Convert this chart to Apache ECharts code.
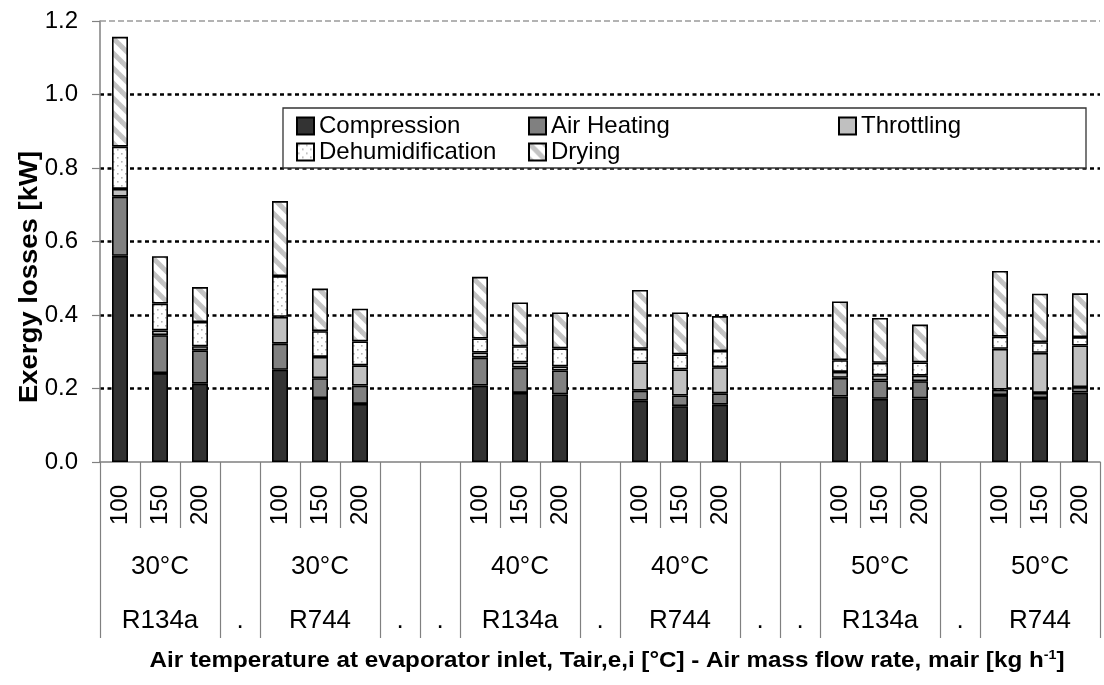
<!DOCTYPE html>
<html>
<head>
<meta charset="utf-8">
<script src="https://cdn.jsdelivr.net/npm/echarts@6/dist/echarts.min.js"></script>
<style>
  html, body { margin: 0; padding: 0; background: #fff; }
  #chart { width: 1104px; height: 685px; }
</style>
</head>
<body>
<div id="chart"></div>
<script>
// x-axis slots: three flow rates per group, '' marks an empty spacer slot
const flowRates = ['100', '150', '200', '', '100', '150', '200', '', '',
                   '100', '150', '200', '', '100', '150', '200', '', '',
                   '100', '150', '200', '', '100', '150', '200'];
const temperatures = ['', '30°C', '', '', '', '30°C', '', '', '',
                      '', '40°C', '', '', '', '40°C', '', '', '',
                      '', '50°C', '', '', '', '50°C', ''];
const refrigerants = ['', 'R134a', '', '.', '', 'R744', '', '.', '.',
                      '', 'R134a', '', '.', '', 'R744', '', '.', '.',
                      '', 'R134a', '', '.', '', 'R744', ''];

// Exergy losses [kW] for the 18 operating points (non-empty slots, left to right)
const compression      = [0.561, 0.242, 0.213, 0.251, 0.174, 0.158, 0.208, 0.188, 0.184, 0.167, 0.152, 0.156, 0.178, 0.172, 0.173, 0.182, 0.174, 0.189];
const airHeating       = [0.161, 0.103, 0.091, 0.071, 0.054, 0.050, 0.076, 0.069, 0.065, 0.027, 0.029, 0.031, 0.051, 0.050, 0.047, 0.015, 0.014, 0.015];
const throttling       = [0.021, 0.013, 0.011, 0.073, 0.058, 0.055, 0.014, 0.014, 0.011, 0.077, 0.071, 0.071, 0.016, 0.014, 0.015, 0.111, 0.109, 0.113];
const dehumidification = [0.115, 0.073, 0.066, 0.111, 0.070, 0.065, 0.038, 0.044, 0.049, 0.037, 0.041, 0.044, 0.032, 0.034, 0.036, 0.033, 0.029, 0.023];
const drying           = [0.299, 0.129, 0.095, 0.204, 0.116, 0.089, 0.168, 0.119, 0.098, 0.160, 0.114, 0.095, 0.160, 0.122, 0.103, 0.179, 0.132, 0.119];

const yTicks = { min: 0, max: 1.2, step: 0.2 };

const FONT = '"Liberation Sans", Arial, sans-serif';

// spread the 18 values over the 25 slots, leaving spacer slots empty
function spread(values) {
  let k = 0;
  return flowRates.map(f => (f === '' ? '-' : values[k++]));
}

// a slot opens a new cell in the lower label rows when it starts a group or is a spacer
function startsCell(i) {
  return flowRates[i] === '' || flowRates[i] === '100';
}

function stripes() {
  const s = 15;
  const c = document.createElement('canvas');
  c.width = s; c.height = s;
  const g = c.getContext('2d');
  g.fillStyle = '#ffffff';
  g.fillRect(0, 0, s, s);
  g.strokeStyle = '#c4c4c4';
  g.lineWidth = 5;
  [-s, 0, s].forEach(k => {
    g.beginPath();
    g.moveTo(k - 2, -2);
    g.lineTo(k + s + 2, s + 2);
    g.stroke();
  });
  return { image: c, repeat: 'repeat' };
}

function dots() {
  const s = 8;
  const c = document.createElement('canvas');
  c.width = s; c.height = s;
  const g = c.getContext('2d');
  g.fillStyle = '#ffffff';
  g.fillRect(0, 0, s, s);
  g.fillStyle = '#b4b4b4';
  g.fillRect(1, 1, 1.6, 1.6);
  g.fillRect(5, 5, 1.6, 1.6);
  return { image: c, repeat: 'repeat' };
}

function bar(name, values, color, extra) {
  return Object.assign({
    name: name,
    type: 'bar',
    stack: 'losses',
    barWidth: 16,
    data: spread(values),
    itemStyle: { color: color, borderColor: '#000', borderWidth: 1.6 },
    emphasis: { disabled: true }
  }, extra || {});
}

const legendBase = {
  padding: 0,
  icon: 'rect',
  itemWidth: 17,
  itemHeight: 17,
  selectedMode: false,
  z: 20,
  textStyle: { fontFamily: FONT, fontSize: 24, color: '#000', padding: [0, 0, 0, 0] }
};
function legendAt(name, left, top) {
  return Object.assign({}, legendBase, { data: [name], left: left, top: top });
}

const chart = echarts.init(document.getElementById('chart'), null, { renderer: 'canvas' });

chart.setOption({
  animation: false,
  backgroundColor: '#fff',
  grid: { left: 100, right: 4, top: 21, bottom: 223, containLabel: false },
  legend: [
    legendAt('Compression', 296, 114),
    legendAt('Air Heating', 528, 114),
    legendAt('Throttling', 838, 114),
    legendAt('Dehumidification', 296, 140),
    legendAt('Drying', 528, 140)
  ],
  xAxis: [
    {
      type: 'category',
      data: flowRates,
      position: 'bottom',
      axisLine: { show: true, lineStyle: { color: '#808080', width: 1.5 } },
      axisTick: { show: true, interval: 0, length: 66, lineStyle: { color: '#808080', width: 1.2 } },
      axisLabel: { interval: 0, rotate: 90, margin: 23, fontFamily: FONT, fontSize: 24, color: '#000' },
      splitLine: { show: false }
    },
    {
      type: 'category',
      data: temperatures,
      position: 'bottom',
      offset: 66,
      axisLine: { show: false },
      axisTick: { show: true, length: 110, interval: (i) => startsCell(i), lineStyle: { color: '#808080', width: 1.2 } },
      axisLabel: { interval: 0, margin: 26, fontFamily: FONT, fontSize: 26, color: '#000' },
      splitLine: { show: false }
    },
    {
      type: 'category',
      data: refrigerants,
      position: 'bottom',
      offset: 120,
      axisLine: { show: false },
      axisTick: { show: false },
      axisLabel: { interval: 0, margin: 26, fontFamily: FONT, fontSize: 26, color: '#000' },
      splitLine: { show: false }
    }
  ],
  yAxis: {
    type: 'value',
    min: yTicks.min,
    max: yTicks.max,
    interval: yTicks.step,
    axisLine: { show: true, lineStyle: { color: '#808080', width: 1.5 } },
    axisTick: { show: true, length: 8, lineStyle: { color: '#808080', width: 1.2 } },
    axisLabel: { margin: 22, fontFamily: FONT, fontSize: 24, color: '#000', formatter: v => v.toFixed(1) },
    splitLine: {
      show: true,
      showMinLine: false,
      showMaxLine: false,
      lineStyle: { color: '#000', width: 2.6, type: [4, 3.5] }
    }
  },
  series: [
    bar('Compression', compression, '#333333', {
      markLine: {
        silent: true,
        symbol: ['none', 'none'],
        label: { show: false },
        lineStyle: { color: '#9a9a9a', width: 1.5, type: [6, 3] },
        data: [{ yAxis: yTicks.max }]
      }
    }),
    bar('Air Heating', airHeating, '#808080'),
    bar('Throttling', throttling, '#c0c0c0'),
    bar('Dehumidification', dehumidification, dots()),
    bar('Drying', drying, stripes())
  ],
  graphic: [
    {
      type: 'rect',
      z: 10,
      shape: { x: 283, y: 108, width: 803, height: 60 },
      style: { fill: '#fff', stroke: '#333', lineWidth: 1.3 }
    },
    {
      type: 'text',
      x: 30,
      y: 277,
      rotation: Math.PI / 2,
      scaleX: 1.1,
      style: {
        text: 'Exergy losses [kW]',
        align: 'center',
        verticalAlign: 'middle',
        fontFamily: FONT,
        fontSize: 25,
        fontWeight: 'bold',
        fill: '#000'
      }
    },
    {
      type: 'text',
      x: 607,
      y: 661,
      scaleX: 1.1,
      style: {
        text: '{t|Air temperature at evaporator inlet, Tair,e,i [°C] - Air mass flow rate, mair [kg h}{s|-1}{t|]}',
        align: 'center',
        verticalAlign: 'middle',
        rich: {
          t: { fontFamily: FONT, fontSize: 22, fontWeight: 'bold', fill: '#000', lineHeight: 24 },
          s: { fontFamily: FONT, fontSize: 13, fontWeight: 'bold', fill: '#000', lineHeight: 24, verticalAlign: 'top' }
        }
      }
    }
  ]
});
</script>
</body>
</html>
